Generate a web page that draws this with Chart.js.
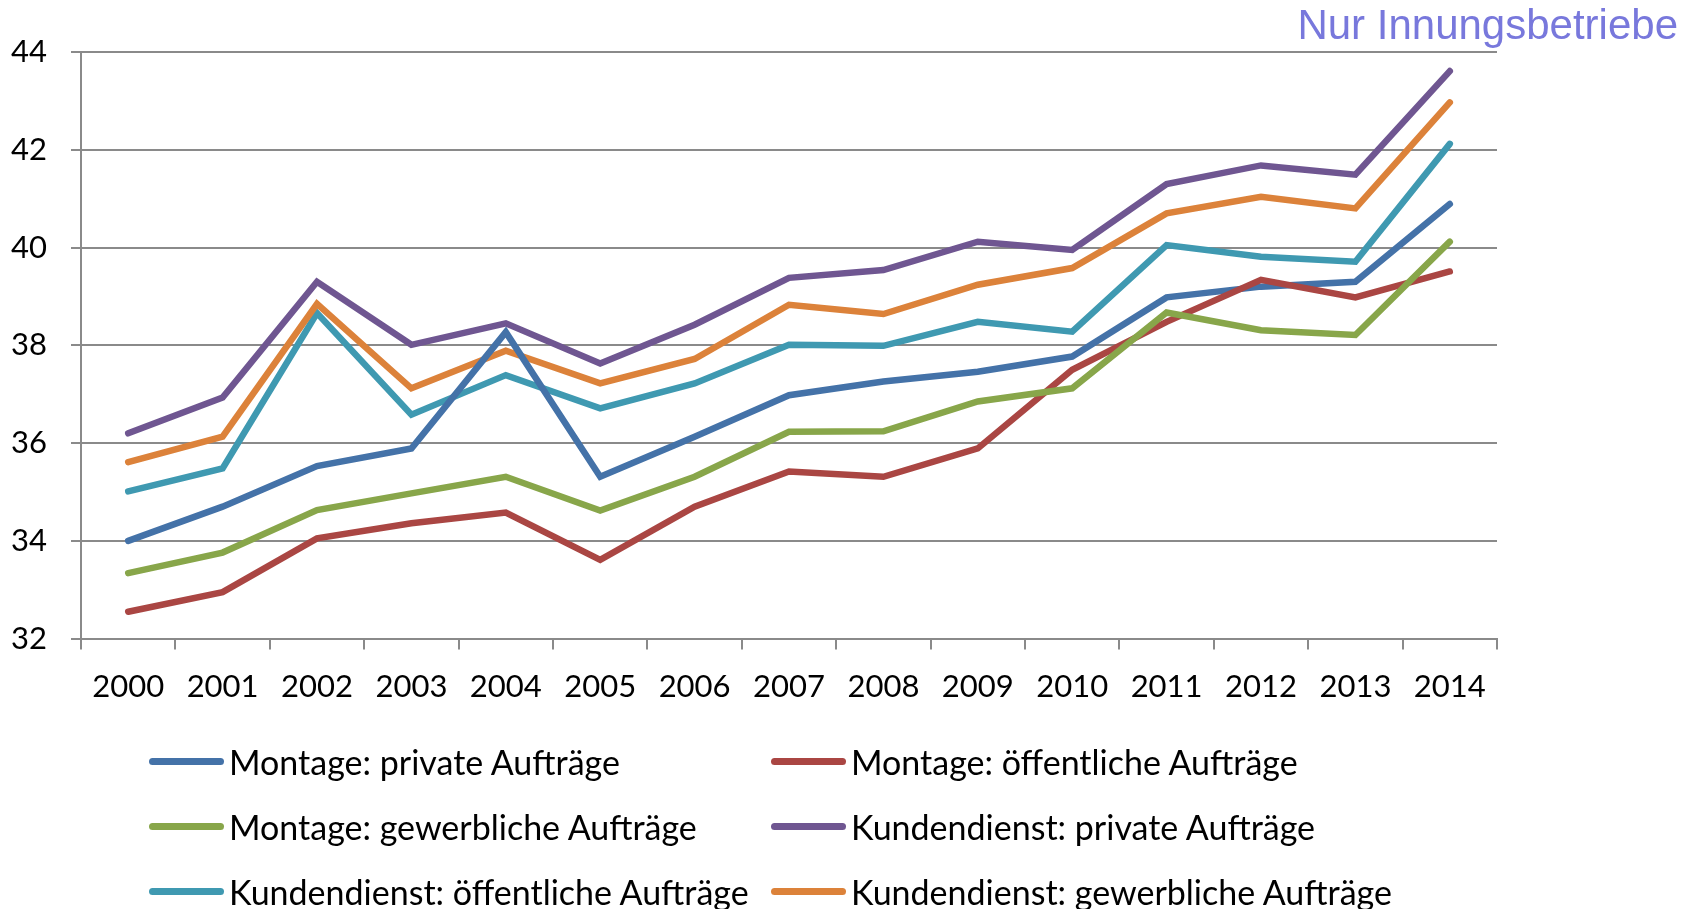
<!DOCTYPE html>
<html><head><meta charset="utf-8">
<script src="https://cdn.jsdelivr.net/npm/chart.js@4.4.0/dist/chart.umd.min.js"></script>
<style>
html,body{margin:0;padding:0;background:#fff;}
#wrap{position:relative;width:1700px;height:909px;overflow:hidden;background:#fff;}
#c{position:absolute;left:0;top:0;}
#title{position:absolute;right:22px;top:4px;font-family:"Liberation Sans",Arial,sans-serif;font-size:42px;line-height:1;color:#7878dc;white-space:nowrap;}
.item{position:absolute;height:40px;display:flex;align-items:center;font-family:Lato,sans-serif;font-size:34px;color:#000;white-space:nowrap;}
.sw{display:inline-block;width:75px;height:7px;border-radius:4px;margin-right:5px;flex:none;}
</style></head>
<body><div id="wrap"><canvas id="c" width="1700" height="909"></canvas><div id="title">Nur Innungsbetriebe</div><div id="legend"></div></div>
<script>
const years = ['2000','2001','2002','2003','2004','2005','2006','2007','2008','2009','2010','2011','2012','2013','2014'];
const montagePrivat      = [34.00,34.70,35.53,35.89,38.27,35.31,36.13,36.98,37.26,37.46,37.77,38.98,39.20,39.30,40.89];
const montageOeffentlich = [32.55,32.95,34.05,34.36,34.58,33.61,34.70,35.42,35.31,35.89,37.50,38.48,39.34,38.98,39.51];
const montageGewerblich  = [33.34,33.76,34.63,34.97,35.31,34.62,35.31,36.23,36.24,36.85,37.12,38.67,38.31,38.21,40.12];
const kdPrivat           = [36.20,36.93,39.30,38.01,38.45,37.63,38.42,39.38,39.54,40.12,39.95,41.30,41.68,41.49,43.61];
const kdOeffentlich      = [35.01,35.48,38.66,36.58,37.39,36.71,37.22,38.01,37.99,38.48,38.28,40.05,39.81,39.71,42.12];
const kdGewerblich       = [35.61,36.13,38.85,37.12,37.89,37.22,37.72,38.83,38.64,39.24,39.58,40.70,41.04,40.80,42.97];
const seriesLabels = ['Montage: private Aufträge','Montage: öffentliche Aufträge','Montage: gewerbliche Aufträge','Kundendienst: private Aufträge','Kundendienst: öffentliche Aufträge','Kundendienst: gewerbliche Aufträge'];
const seriesValues = [montagePrivat, montageOeffentlich, montageGewerblich, kdPrivat, kdOeffentlich, kdGewerblich];
const seriesColors = ['#4472a8','#aa4643','#88a64a','#6f5691','#3f99b1','#dc823a'];
const drawOrder    = [3,2,1,0,5,4];
const yTicks = {min:32, max:44, step:2};

const gridColor = '#8a8a8a';
const datasets = seriesLabels.map((l,i)=>({
  label:l, data:seriesValues[i], borderColor:seriesColors[i], backgroundColor:seriesColors[i],
  borderWidth:6.5, pointRadius:0, tension:0, fill:false, order:drawOrder[i],
  borderCapStyle:'round', borderJoinStyle:'miter'
}));

new Chart(document.getElementById('c'), {
  type:'line',
  data:{labels:years, datasets},
  options:{
    responsive:false, animation:false, devicePixelRatio:1,
    layout:{padding:{top:52,right:203,left:0,bottom:0}},
    plugins:{legend:{display:false}, tooltip:{enabled:false}, title:{display:false}},
    scales:{
      x:{
        offset:true,
        grid:{display:true, drawOnChartArea:false, drawTicks:true, tickLength:11, offset:true, color:gridColor, lineWidth:2},
        border:{display:true, color:gridColor, width:2},
        ticks:{color:'#000', font:{family:'Lato', size:31}, padding:19, maxRotation:0, autoSkip:false},
        afterFit:(s)=>{ s.height = 909 - 638.6; }
      },
      y:{
        min:yTicks.min, max:yTicks.max,
        grid:{display:true, drawOnChartArea:true, drawTicks:true, tickLength:10, color:gridColor, lineWidth:2},
        border:{display:true, color:gridColor, width:2},
        ticks:{stepSize:yTicks.step, color:'#000', font:{family:'Lato', size:31}, padding:24},
        afterFit:(s)=>{ s.width = 81; }
      }
    }
  }
});

// HTML legend in two columns
const colX = [149, 771];
const rowY = [761.7, 826.7, 891.7];
const leg = document.getElementById('legend');
seriesLabels.forEach((l,i)=>{
  const d = document.createElement('div');
  d.className='item';
  d.style.left = colX[i%2]+'px';
  d.style.top = (rowY[Math.floor(i/2)]-20)+'px';
  const sw = document.createElement('span');
  sw.className='sw'; sw.style.background = seriesColors[i];
  d.appendChild(sw);
  d.appendChild(document.createTextNode(l));
  leg.appendChild(d);
});
</script>
</body></html>
